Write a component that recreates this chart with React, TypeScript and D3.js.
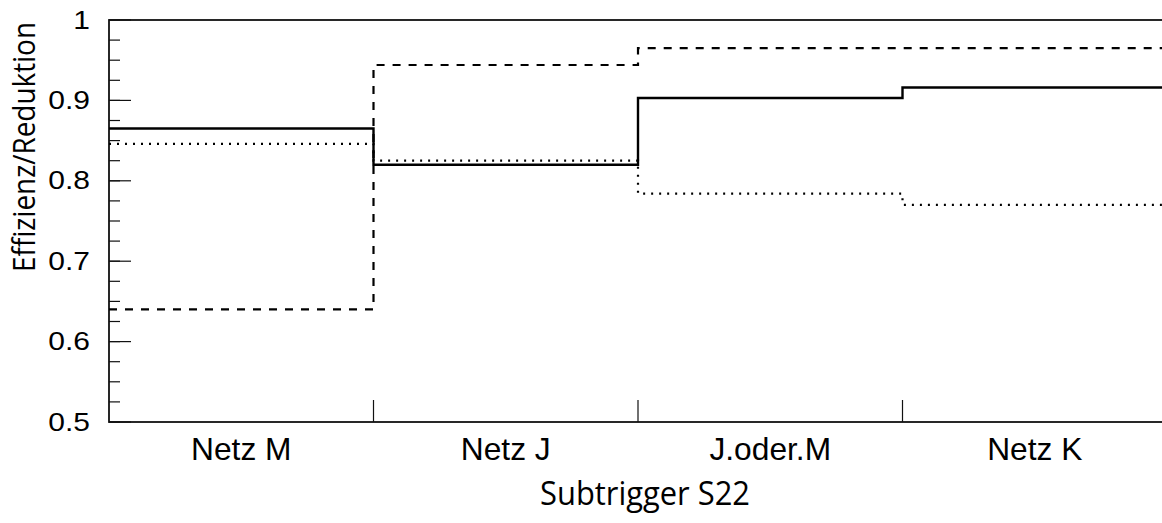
import React from "react";
import * as d3 from "d3";

const categories = ["Netz M", "Netz J", "J.oder.M", "Netz K"];
const solidValues = [0.865, 0.82, 0.903, 0.916];
const dashedValues = [0.64, 0.944, 0.965, 0.965];
const dottedValues = [0.846, 0.825, 0.784, 0.77];
const yMajorTicks = [0.5, 0.6, 0.7, 0.8, 0.9, 1.0];
const yTickLabels = ["0.5", "0.6", "0.7", "0.8", "0.9", "1"];
const xTitle = "Subtrigger S22";
const yTitle = "Effizienz/Reduktion";

const W = 1162;
const H = 523;
const left = 109;
const right = 1167;
const top = 20;
const bottom = 422;

const ARIAL = "'Liberation Sans', Arimo, Arial, Helvetica, sans-serif";
const CMSS = "'Open Sans', 'DejaVu Sans', sans-serif";

export default function App() {
  const x = d3.scaleBand<string>().domain(categories).range([left, right]).paddingInner(0).paddingOuter(0);
  const y = d3.scaleLinear().domain([0.5, 1]).range([bottom, top]);
  const bw = x.bandwidth();

  const stepPts = (vals: number[]) => {
    const pts: [number, number][] = [];
    vals.forEach((v, i) => {
      const x0 = x(categories[i]) as number;
      pts.push([x0, y(v)]);
      pts.push([x0 + bw, y(v)]);
    });
    return pts;
  };
  const line = d3.line<[number, number]>().x((d) => d[0]).y((d) => d[1]);

  const minorTicks = d3.range(0.5, 1.0001, 0.025);
  const boundaries = categories.slice(1).map((c) => x(c) as number);

  return (
    <svg width={W} height={H} style={{ position: "absolute", left: 0, top: 0, background: "#fff" }}>
      <rect x={0} y={0} width={W} height={H} fill="#fff" />
      <rect x={left} y={top} width={right - left} height={bottom - top} fill="none" stroke="#111" strokeWidth={1.8} />
      {minorTicks.map((t, i) => (
        <line key={"mn" + i} x1={left} x2={left + 11} y1={y(t)} y2={y(t)} stroke="#111" strokeWidth={1.2} />
      ))}
      {yMajorTicks.map((t, i) => (
        <line key={"mj" + i} x1={left} x2={left + 22} y1={y(t)} y2={y(t)} stroke="#111" strokeWidth={1.2} />
      ))}
      {yMajorTicks.map((t, i) => (
        <text
          key={"yl" + i}
          transform={`translate(90,${y(t)}) scale(1.2,1)`}
          textAnchor="end"
          dominantBaseline="central"
          style={{ fontFamily: ARIAL }}
          fontSize={25}
          fill="#000"
        >
          {yTickLabels[i]}
        </text>
      ))}
      {boundaries.map((bx, i) => (
        <line key={"xt" + i} x1={bx} x2={bx} y1={bottom} y2={bottom - 22} stroke="#111" strokeWidth={1.2} />
      ))}
      {categories.map((c, i) => (
        <text
          key={"xl" + i}
          transform={`translate(${(x(c) as number) + bw / 2},460) scale(1.04,1)`}
          textAnchor="middle"
          style={{ fontFamily: ARIAL }}
          fontSize={30.5}
          fill="#000"
        >
          {c}
        </text>
      ))}
      <path d={line(stepPts(dottedValues)) || ""} fill="none" stroke="#000" strokeWidth={2.2} strokeDasharray="2,6" />
      <path d={line(stepPts(dashedValues)) || ""} fill="none" stroke="#000" strokeWidth={2.2} strokeDasharray="8,8" />
      <path d={line(stepPts(solidValues)) || ""} fill="none" stroke="#000" strokeWidth={2.4} />
      <text
        transform={`translate(645,505) scale(1,1.2)`}
        textAnchor="middle"
        style={{ fontFamily: CMSS }}
        fontSize={27}
        textLength={210}
        lengthAdjust="spacingAndGlyphs"
        fill="#000"
      >
        {xTitle}
      </text>
      <text
        transform={`translate(35,147) rotate(-90) scale(1,1.22)`}
        textAnchor="middle"
        style={{ fontFamily: CMSS }}
        fontSize={25}
        textLength={250}
        lengthAdjust="spacingAndGlyphs"
        fill="#000"
      >
        {yTitle}
      </text>
    </svg>
  );
}
